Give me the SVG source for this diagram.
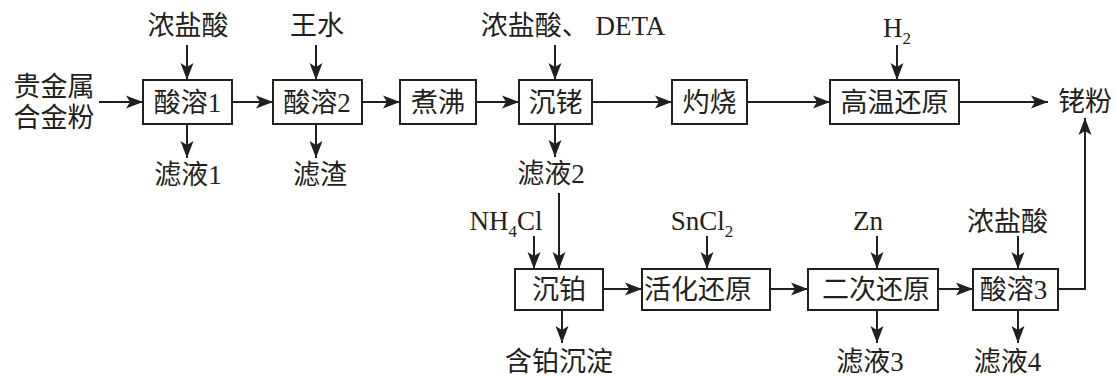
<svg xmlns="http://www.w3.org/2000/svg" width="1116" height="376" viewBox="0 0 1116 376">
<defs>
<marker id="ah" markerUnits="userSpaceOnUse" markerWidth="18" markerHeight="14" refX="17" refY="7" orient="auto">
<path d="M0,0.5 L17,7 L0,13.5 L4,7 Z" fill="#231f20"/>
</marker>
</defs>
<style>
text{font-family:"Liberation Serif","Noto Sans CJK SC",serif;font-size:27px;fill:#231f20;text-anchor:middle}
.box{fill:#fff;stroke:#231f20;stroke-width:2}
.c{fill:none;stroke:#231f20;stroke-width:2}
.a{marker-end:url(#ah)}
.sub{font-size:17px}
</style>
<rect width="1116" height="376" fill="#fff"/>
<g id="connectors">
<line class="c a" x1="99" y1="102" x2="143" y2="102"/>
<line class="c a" x1="232" y1="102" x2="273" y2="102"/>
<line class="c a" x1="362" y1="102" x2="400" y2="102"/>
<line class="c a" x1="476" y1="102" x2="519" y2="102"/>
<line class="c a" x1="592" y1="102" x2="672" y2="102"/>
<line class="c a" x1="747" y1="102" x2="830" y2="102"/>
<line class="c a" x1="959" y1="102" x2="1048" y2="102"/>
<line class="c a" x1="187" y1="45" x2="187" y2="80"/>
<line class="c a" x1="316" y1="45" x2="316" y2="80"/>
<line class="c a" x1="555" y1="45" x2="555" y2="80"/>
<line class="c a" x1="897" y1="45" x2="897" y2="80"/>
<line class="c a" x1="187" y1="124" x2="187" y2="158"/>
<line class="c a" x1="316" y1="124" x2="316" y2="158"/>
<line class="c a" x1="555" y1="124" x2="555" y2="157"/>
<line class="c a" x1="559" y1="193" x2="559" y2="269"/>
<line class="c a" x1="534" y1="236" x2="534" y2="269"/>
<line class="c a" x1="707" y1="236" x2="707" y2="269"/>
<line class="c a" x1="877" y1="236" x2="877" y2="269"/>
<line class="c a" x1="1018" y1="236" x2="1018" y2="269"/>
<line class="c a" x1="603" y1="289" x2="642" y2="289"/>
<line class="c a" x1="770" y1="289" x2="808" y2="289"/>
<line class="c a" x1="938" y1="289" x2="973" y2="289"/>
<line class="c a" x1="562" y1="310" x2="562" y2="343"/>
<line class="c a" x1="877" y1="310" x2="877" y2="343"/>
<line class="c a" x1="1018" y1="310" x2="1018" y2="343"/>
<polyline class="c a" points="1058,289 1085,289 1085,118"/>
</g>
<g id="n-acid1"><rect class="box" x="143" y="80" width="89" height="44"/><text x="187.5" y="112">酸溶1</text></g>
<g id="n-acid2"><rect class="box" x="273" y="80" width="89" height="44"/><text x="317" y="112">酸溶2</text></g>
<g id="n-boil"><rect class="box" x="400" y="80" width="76" height="44"/><text x="438" y="112">煮沸</text></g>
<g id="n-rh"><rect class="box" x="519" y="80" width="73" height="44"/><text x="555.5" y="112">沉铑</text></g>
<g id="n-burn"><rect class="box" x="672" y="80" width="75" height="44"/><text x="709.5" y="112">灼烧</text></g>
<g id="n-htred"><rect class="box" x="830" y="80" width="129" height="44"/><text x="894.5" y="112">高温还原</text></g>
<g id="n-pt"><rect class="box" x="515" y="269" width="88" height="41"/><text x="559" y="299">沉铂</text></g>
<g id="n-act"><rect class="box" x="642" y="269" width="128" height="41"/><text x="698" y="299">活化还原</text></g>
<g id="n-red2"><rect class="box" x="808" y="269" width="130" height="41"/><text x="876" y="299">二次还原</text></g>
<g id="n-acid3"><rect class="box" x="973" y="269" width="85" height="41"/><text x="1013.5" y="299">酸溶3</text></g>
<g id="labels">
<text x="54" y="96">贵金属</text>
<text x="54" y="127">合金粉</text>
<text x="188" y="35">浓盐酸</text>
<text x="317" y="35">王水</text>
<text x="573" y="35" xml:space="preserve">浓盐酸、 DETA</text>
<text x="897" y="37">H<tspan class="sub" dy="7">2</tspan></text>
<text x="188" y="184">滤液1</text>
<text x="320" y="184">滤渣</text>
<text x="551" y="183">滤液2</text>
<text x="1085" y="111">铑粉</text>
<text x="506" y="230">NH<tspan class="sub" dy="7">4</tspan><tspan dy="-7">Cl</tspan></text>
<text x="702" y="230">SnCl<tspan class="sub" dy="7">2</tspan></text>
<text x="868" y="230">Zn</text>
<text x="1007.5" y="231">浓盐酸</text>
<text x="559" y="371">含铂沉淀</text>
<text x="870" y="371">滤液3</text>
<text x="1007.5" y="371">滤液4</text>
</g>
</svg>
